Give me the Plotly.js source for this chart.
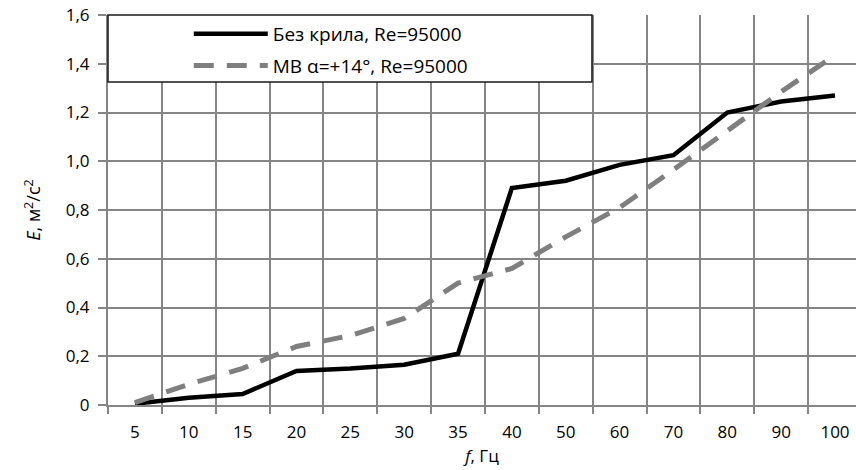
<!DOCTYPE html>
<html>
<head>
<meta charset="utf-8">
<script src="https://cdn.plot.ly/plotly-3.0.1.min.js"></script>
<style>html,body{margin:0;padding:0;background:#fff;}#chart{width:856px;height:470px;}</style>
</head>
<body>
<div id="chart"></div>
<script>
var categories = ['5','10','15','20','25','30','35','40','50','60','70','80','90','100'];
var seriesNoWing = [0.005, 0.03, 0.045, 0.14, 0.15, 0.165, 0.21, 0.89, 0.92, 0.985, 1.025, 1.20, 1.245, 1.27];
var seriesMV = [0.01, 0.085, 0.15, 0.24, 0.285, 0.355, 0.50, 0.56, 0.69, 0.81, 0.965, 1.125, 1.285, 1.435];
var yTickVals = [0, 0.2, 0.4, 0.6, 0.8, 1.0, 1.2, 1.4, 1.6];
var yTickText = ['0', '0,2', '0,4', '0,6', '0,8', '1,0', '1,2', '1,4', '1,6'];
var nameNoWing = 'Без крила, Re=95000';
var nameMV = 'МВ α=+14°, Re=95000';

var idx = categories.map(function (c, i) { return i; });
var grid = '#858585';
var fontFam = '"Open Sans", "DejaVu Sans", sans-serif';

var traces = [
  {x: idx, y: seriesNoWing, type: 'scatter', mode: 'lines', name: nameNoWing, legendgroup: 'a',
   line: {color: '#000000', width: 4.5}},
  {x: idx, y: seriesMV, type: 'scatter', mode: 'lines', name: nameMV, legendgroup: 'b',
   line: {color: '#7f7f7f', width: 5, dash: '20px,13px'}}
];

var layout = {
  width: 856, height: 470,
  margin: {l: 108, r: 0, t: 15, b: 65},
  paper_bgcolor: '#ffffff', plot_bgcolor: '#ffffff',
  font: {family: fontFam, size: 17, color: '#000000'},
  showlegend: true,
  legend: {x: 0.108, y: 1.0, xanchor: 'left', yanchor: 'top', bgcolor: 'rgba(0,0,0,0)', borderwidth: 0,
           itemwidth: 74, tracegroupgap: 4, traceorder: 'grouped', font: {size: 19, family: fontFam}},
  xaxis: {
    range: [-0.5, 13.39], tickvals: idx, ticktext: categories, ticks: '', showgrid: false,
    zeroline: false, showline: true, linecolor: grid, linewidth: 2,
    tickfont: {size: 17}, ticklabelstandoff: 11,
    minor: {tick0: -0.5, dtick: 1, showgrid: true, gridcolor: grid, gridwidth: 2,
            ticks: 'outside', ticklen: 7, tickcolor: grid, tickwidth: 2},
    title: {text: '<i>f</i>, Гц', font: {size: 17}, standoff: 8},
    fixedrange: true
  },
  yaxis: {
    range: [0, 1.6], tickvals: yTickVals, ticktext: yTickText, showgrid: true, gridcolor: grid, gridwidth: 2,
    ticks: 'outside', ticklen: 8, tickcolor: grid, tickwidth: 2, zeroline: false,
    showline: true, linecolor: grid, linewidth: 2, tickfont: {size: 17}, ticklabelstandoff: 5,
    title: {text: '<i>E</i>, м<sup>2</sup>/с<sup>2</sup>', font: {size: 18}, standoff: 20},
    fixedrange: true
  },
  shapes: [
    {type: 'rect', xref: 'paper', yref: 'paper', x0: 0, x1: 0.647, y0: 0.828, y1: 1, layer: 'above',
     fillcolor: '#ffffff', line: {color: '#1a1a1a', width: 1.5}}
  ]
};

Plotly.newPlot('chart', traces, layout, {displayModeBar: false, staticPlot: true});
</script>
</body>
</html>
